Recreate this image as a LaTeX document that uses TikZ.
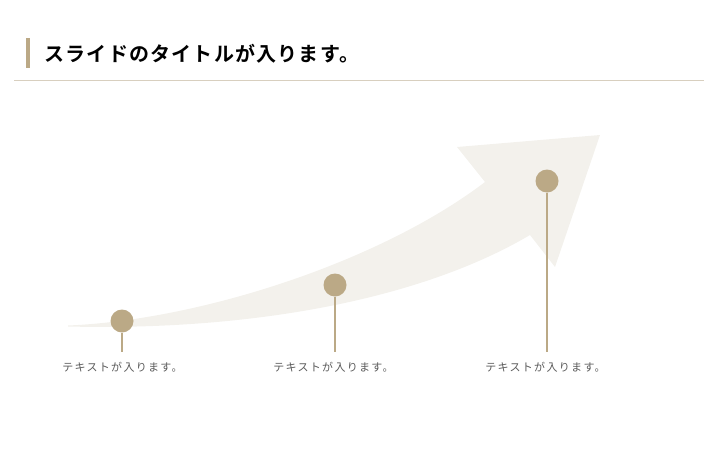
\documentclass[tikz,border=0pt]{standalone}
\usepackage{fontspec}
\newfontfamily\jpfont[LetterSpace=12]{Noto Sans CJK JP}
\newfontfamily\jpbold[LetterSpace=6]{Noto Sans CJK JP Bold}
\definecolor{tan}{HTML}{BBA986}
\definecolor{pale}{HTML}{F3F1EC}
\definecolor{rule}{HTML}{D8CFBF}
\definecolor{txt}{HTML}{5A5A5A}
\tikzset{
  dot/.style={circle,fill=tan,minimum size=23pt,inner sep=0pt},
  stem/.style={draw=tan,line width=2pt},
  lbl/.style={font=\jpfont\fontsize{11}{13}\selectfont,text=txt}
}
\begin{document}
\begin{tikzpicture}[x=1pt,y=-1pt]
        \useasboundingbox (0,0) rectangle (720,450);
        % title
        \fill[tan](25.5,38)rectangle(29.5,68);
        \node[anchor=west,font=\jpbold\fontsize{20}{24}\selectfont] (title) at (41,53.5){スライドのタイトルが入ります。};
        \draw[rule,line width=1pt](14,80.5)--(704,80.5);
        % arrow
        \fill[pale](68,325.5)..controls(200,320)and(380,262)..(485,182)--(457,147)--(600,135)--(555,267)--(530,235)
                ..controls(420,300)and(250,331)..(68,326.5)--cycle;
        % points
        \node[dot] (d1) at (122,321){};
        \node[dot] (d2) at (335,285){};
        \node[dot] (d3) at (547,181){};
        \coordinate (e1) at (122,352);
        \coordinate (e2) at (335,352);
        \coordinate (e3) at (547,352);
        \draw[stem](d1)--(e1);
        \draw[stem](d2)--(e2);
        \draw[stem](d3)--(e3);
        \node[lbl] (t1) at (122.5,367){テキストが入ります。};
        \node[lbl] (t2) at (333.5,367){テキストが入ります。};
        \node[lbl] (t3) at (545.5,367){テキストが入ります。};
    \end{tikzpicture}
\end{document}
